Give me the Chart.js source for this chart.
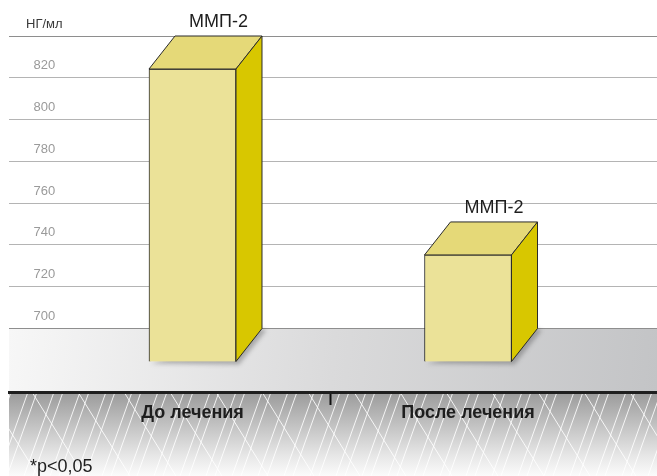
<!DOCTYPE html>
<html>
<head>
<meta charset="utf-8">
<script src="https://cdn.jsdelivr.net/npm/chart.js@4.4.1/dist/chart.umd.min.js"></script>
<style>
  html, body { margin: 0; padding: 0; background: #fff; }
  .wrap { width: 657px; height: 476px; position: relative; }
</style>
</head>
<body>
<div class="wrap"><canvas id="chartMmp"></canvas></div>
<script>
const categories = ['До лечения', 'После лечения'];
const mmp2 = [840, 751];
const barLabels = ['ММП-2', 'ММП-2'];
const yTicks = [700, 720, 740, 760, 780, 800, 820, 840];
const unitLabel = 'НГ/мл';
const footnote = '*p<0,05';

// 3d depth of the boxes, px
const DX = 26, DY = 33;

const box3d = {
  id: 'box3d',
  beforeDraw(chart) {
    const {ctx, chartArea: a} = chart;
    const floorTop = chart.scales.y.getPixelForValue(700);
    ctx.save();
    // hatched ground under the floor
    let g = ctx.createLinearGradient(0, a.bottom, 0, chart.height);
    g.addColorStop(0, '#9a9a9a');
    g.addColorStop(0.75, '#e6e6e6');
    g.addColorStop(1, '#fbfbfb');
    ctx.fillStyle = g;
    ctx.fillRect(a.left, a.bottom, a.right - a.left, chart.height - a.bottom);
    ctx.beginPath();
    ctx.rect(a.left, a.bottom, a.right - a.left, chart.height - a.bottom);
    ctx.clip();
    ctx.strokeStyle = 'rgba(255,255,255,0.85)';
    ctx.lineWidth = 1;
    for (let x = -80, k = 0; x < 720; x += (k++ % 2 ? 17 : 9)) {
      ctx.beginPath();
      ctx.moveTo(x, chart.height);
      ctx.lineTo(x + 30, a.bottom);
      ctx.stroke();
    }
    for (let x = -60; x < 720; x += 46) {
      ctx.beginPath();
      ctx.moveTo(x, a.bottom);
      ctx.lineTo(x + 52, chart.height);
      ctx.stroke();
    }
    ctx.restore();
    // floor
    ctx.save();
    g = ctx.createLinearGradient(a.left, floorTop, a.right, a.bottom);
    g.addColorStop(0, '#f7f7f7');
    g.addColorStop(0.5, '#dadadb');
    g.addColorStop(1, '#c3c4c6');
    ctx.fillStyle = g;
    ctx.fillRect(a.left, floorTop, a.right - a.left, a.bottom - floorTop);
    ctx.restore();
  },
  beforeDatasetsDraw(chart) {
    const ctx = chart.ctx;
    ctx.save();
    ctx.fillStyle = 'rgba(60,60,60,0.35)';
    ctx.filter = 'blur(2px)';
    chart.getDatasetMeta(0).data.forEach(bar => {
      const {x, base, width} = bar.getProps(['x', 'base', 'width'], true);
      const l = x - width / 2, r = x + width / 2;
      ctx.beginPath();
      ctx.moveTo(l + 2, base + 2);
      ctx.lineTo(r + 3, base + 3);
      ctx.lineTo(r + DX + 4, base - DY + 2);
      ctx.lineTo(r + DX, base - DY);
      ctx.closePath();
      ctx.fill();
    });
    ctx.restore();
  },
  afterDatasetsDraw(chart) {
    const ctx = chart.ctx;
    ctx.save();
    ctx.lineWidth = 1;
    ctx.strokeStyle = '#2b2b2b';
    ctx.lineJoin = 'miter';
    chart.getDatasetMeta(0).data.forEach((bar, i) => {
      const {x, y, base, width} = bar.getProps(['x', 'y', 'base', 'width'], true);
      const l = x - width / 2, r = x + width / 2;
      // top
      ctx.beginPath();
      ctx.moveTo(l, y);
      ctx.lineTo(l + DX, y - DY);
      ctx.lineTo(r + DX, y - DY);
      ctx.lineTo(r, y);
      ctx.closePath();
      ctx.fillStyle = '#e5d978';
      ctx.fill();
      ctx.stroke();
      // side
      ctx.beginPath();
      ctx.moveTo(r, y);
      ctx.lineTo(r + DX, y - DY);
      ctx.lineTo(r + DX, base - DY);
      ctx.lineTo(r, base);
      ctx.closePath();
      ctx.fillStyle = '#d8c700';
      ctx.fill();
      ctx.stroke();
      // label over the box
      ctx.fillStyle = '#1e1e1e';
      ctx.font = '18px "Liberation Sans", Arial, sans-serif';
      ctx.textAlign = 'center';
      ctx.textBaseline = 'middle';
      ctx.fillText(barLabels[i], x + DX, y - DY - 14);
    });
    ctx.restore();
  },
  afterDraw(chart) {
    const ctx = chart.ctx;
    ctx.save();
    ctx.fillStyle = '#1e1e1e';
    ctx.font = '18px "Liberation Sans", Arial, sans-serif';
    ctx.textAlign = 'left';
    ctx.textBaseline = 'alphabetic';
    ctx.fillText(footnote, 30, 472);
    ctx.restore();
  }
};

const ctx = document.getElementById('chartMmp');

new Chart(ctx, {
  type: 'bar',
  data: {
    datasets: [{
      label: 'ММП-2',
      data: mmp2.map((v, i) => ({x: i + 1, y: v})),
      yAxisID: 'yf',
      base: 700,
      barThickness: 87,
      backgroundColor: '#ebe298',
      borderColor: '#2b2b2b',
      borderWidth: 1
    }]
  },
  plugins: [box3d],
  options: {
    responsive: true,
    maintainAspectRatio: false,
    animation: false,
    layout: {
      padding: {left: 9, top: 36, right: 0, bottom: 0}
    },
    plugins: {
      legend: {display: false},
      tooltip: {enabled: false}
    },
    scales: {
      x: {
        type: 'linear',
        offset: false,
        min: 0.334,
        max: 2.686,
        afterBuildTicks: s => { s.ticks = [{value: 1}, {value: 1.5}, {value: 2}]; },
        afterFit: s => { s.height = 84; },
        border: {display: true, color: '#1f1f1f', width: 3},
        grid: {
          offset: false,
          drawOnChartArea: false,
          tickLength: 13,
          tickWidth: 2,
          tickColor: c => c.tick && c.tick.value === 1.5 ? '#111' : 'rgba(0,0,0,0)'
        },
        ticks: {
          padding: -3,
          color: '#1e1e1e',
          maxRotation: 0,
          autoSkip: false,
          font: {family: '"Liberation Sans", Arial, sans-serif', size: 18, weight: 'bold'},
          callback: v => Number.isInteger(v) ? categories[v - 1] : ''
        }
      },
      y: {
        position: 'left',
        min: 669.6,
        max: 840,
        afterBuildTicks: s => { s.ticks = yTicks.map(v => ({value: v})); },
        afterFit: s => { s.width = 0; },
        border: {display: false},
        grid: {
          drawTicks: false,
          color: c => c.tick && (c.tick.value === 840 || c.tick.value === 700) ? '#8e8e8e' : '#b4b4b4',
          lineWidth: 1
        },
        ticks: {
          mirror: true,
          crossAlign: 'center',
          padding: 17,
          labelOffset: -12,
          color: c => c.tick && c.tick.value === 840 ? '#3a3a3a' : '#9a9a9a',
          font: {family: '"Liberation Sans", Arial, sans-serif', size: 13},
          callback: v => v === 840 ? unitLabel : v
        }
      },
      // front plane of the boxes sits DY px lower than the back wall
      yf: {
        display: false,
        min: 685.4,
        max: 855.8
      }
    }
  }
});
</script>
</body>
</html>
